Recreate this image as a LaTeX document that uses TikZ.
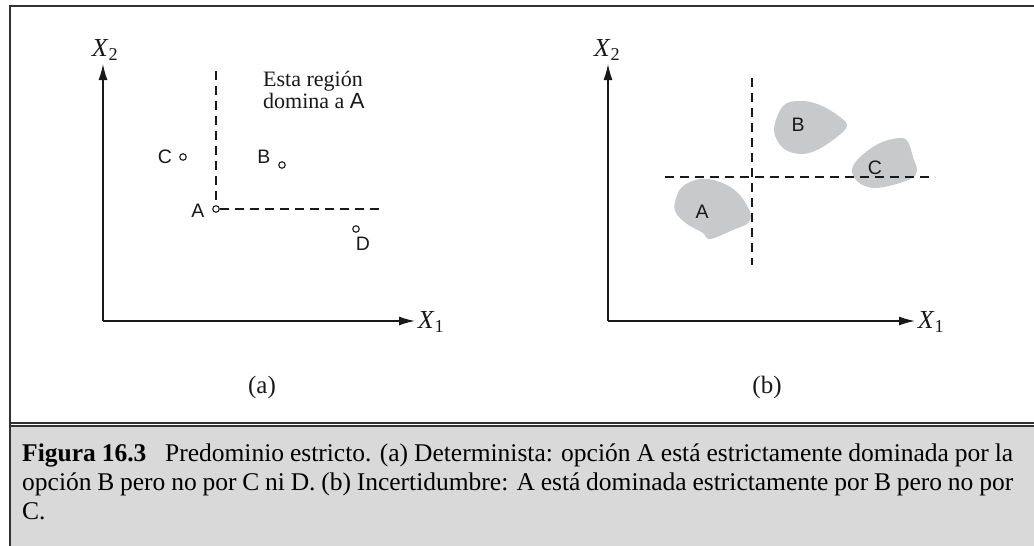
\documentclass[tikz,border=0pt]{standalone}
\usepackage{fontspec}
\setmainfont{Liberation Serif}
\newfontfamily\lblfont{Liberation Sans}
\usepackage{tikz}
\usetikzlibrary{arrows.meta,positioning,calc}
\usepackage{xcolor}
\definecolor{framegray}{RGB}{50,50,50}
\definecolor{capgray}{RGB}{217,217,217}
\definecolor{blobgray}{RGB}{200,201,203}
\definecolor{inkdark}{RGB}{25,25,25}
\newcommand{\axvar}[1]{\textit{X}\textsubscript{#1}}

\begin{document}
\begin{tikzpicture}[x=1pt, y=-1pt,
          axis/.style={-{Latex[length=16pt,width=9pt]}, line width=1.4pt, inkdark},
          guide/.style={dashed, dash pattern=on 9pt off 6pt, line width=1.5pt, inkdark},
          pt/.style={circle, draw=inkdark, line width=1.1pt, inner sep=0pt, minimum size=6.5pt},
          lbl/.style={font=\lblfont\fontsize{19.5}{22}\selectfont, text=inkdark, inner sep=0pt},
          axlbl/.style={font=\fontsize{26}{28}\selectfont, text=inkdark, inner sep=0pt},
          sub/.style={font=\fontsize{25}{27}\selectfont, text=inkdark, inner sep=0pt},
          blob/.style={fill=blobgray, draw=none}
        ]
          \useasboundingbox (0,0) rectangle (1034,546);
          % frame and caption band
          \fill[capgray] (10.5,427) rectangle (1034,546);
          \draw[framegray, line width=1.9pt] (9.6,546) -- (9.6,5.6) -- (1034,5.6);
          \draw[framegray, line width=1.5pt] (9.6,422.8) -- (1034,422.8);
          \draw[framegray, line width=1.5pt] (9.6,425.9) -- (1034,425.9);

          % (a) deterministic
          \coordinate (oa) at (103,321);
          \coordinate (ya) at (103,64);
          \coordinate (xa) at (415,321);
          \draw[axis] (oa) -- (ya);
          \draw[axis] (oa) -- (xa);
          \node[axlbl] (x2a) at (105,50) {\axvar{2}};
          \node[axlbl] (x1a) at (431,322) {\axvar{1}};
          \node[pt] (pa) at (216,209) {};
          \node[pt] (pb) at (282,165) {};
          \node[pt] (pc) at (183,157) {};
          \node[pt] (pd) at (356,229) {};
          \coordinate (va) at (216,71);
          \coordinate (ha) at (383,209);
          \draw[guide] (va) -- (pa.north);
          \draw[guide] (pa.east) -- (ha);
          \node[lbl] (la) at (198,211) {A};
          \node[lbl] (lb) at (264,157) {B};
          \node[lbl] (lc) at (165,157) {C};
          \node[lbl] (ld) at (363,244) {D};
          \node[anchor=north west, align=left, inner sep=0pt, text=inkdark,
                font=\fontsize{22}{22}\selectfont] (reg) at (263,71)
                {Esta región\\domina a {\lblfont A}};
          \node[sub] (capa) at (262,387) {(a)};

          % (b) uncertainty
          \coordinate (ob) at (608,321);
          \coordinate (yb) at (608,64);
          \coordinate (xb) at (915,321);
          \draw[axis] (ob) -- (yb);
          \draw[axis] (ob) -- (xb);
          \node[axlbl] (x2b) at (607,50) {\axvar{2}};
          \node[axlbl] (x1b) at (931,322) {\axvar{1}};
          \fill[blob] plot[smooth cycle, tension=0.6] coordinates {(774,130) (783,106) (800,101) (820,105)
                (840,117) (847,126) (837,137) (817,150) (800,154) (783,148)};
          \fill[blob] plot[smooth cycle, tension=0.6] coordinates {(852,170) (860,157) (880,143) (900,138)
                (908,142) (913,157) (917,170) (912,178) (893,185) (873,188) (858,182)};
          \fill[blob] plot[smooth cycle, tension=0.6] coordinates {(675,202) (682,187) (700,179) (720,182)
                (738,193) (750,212) (748,223) (733,230) (710,239) (703,233) (687,224) (676,213)};
          \node[lbl] (ba) at (702,212) {A};
          \node[lbl] (bb) at (798,125) {B};
          \node[lbl] (bc) at (875,168) {C};
          \coordinate (vt) at (752,78);
          \coordinate (vb) at (752,265);
          \coordinate (hl) at (665,177);
          \coordinate (hr) at (935,177);
          \draw[guide] (vt) -- (vb);
          \draw[guide] (hl) -- (hr);
          \node[sub] (capb) at (767,387) {(b)};

          % caption
          \node[anchor=north west, text width=991pt, align=justify, inner sep=0pt, text=black,
                font=\fontsize{25.5}{29}\selectfont] (cap) at (22,444)
                {\textbf{Figura 16.3}\hspace{0.5em} Predominio estricto. (a) Determinista: opción A está
                 estrictamente dominada por la\linebreak opción B pero no por C ni D. (b) Incertidumbre:
                 A está dominada estrictamente por B pero no por\linebreak C.};
        \end{tikzpicture}
\end{document}
